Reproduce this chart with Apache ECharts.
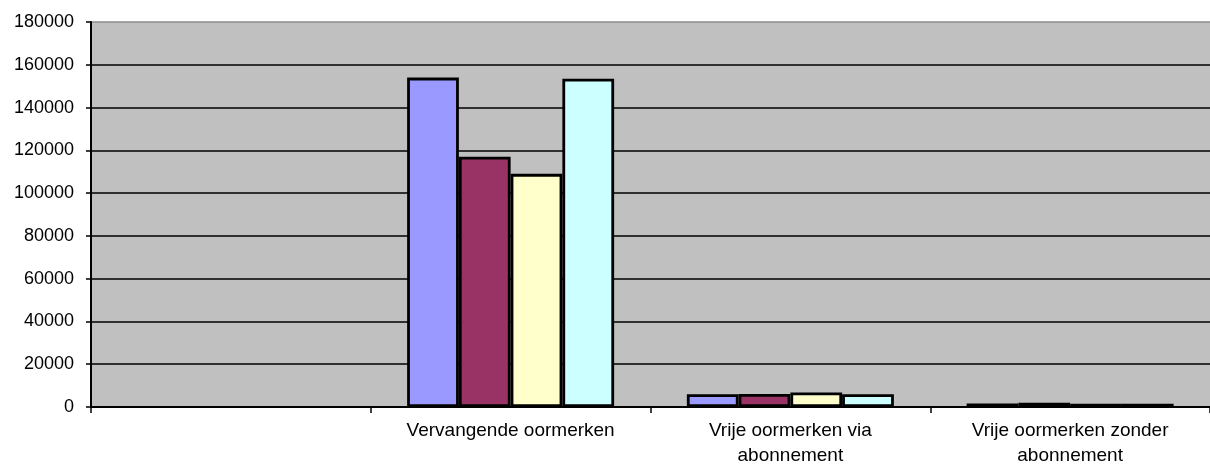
<!DOCTYPE html>
<html>
<head>
<meta charset="utf-8">
<script src="https://cdn.jsdelivr.net/npm/echarts@6/dist/echarts.min.js"></script>
<style>html,body{margin:0;padding:0;background:#fff;}#c{width:1210px;height:464px;}</style>
</head>
<body>
<div id="c"></div>
<script>
const categories = ['', 'Vervangende oormerken', 'Vrije oormerken via\nabonnement', 'Vrije oormerken zonder\nabonnement'];
const series1 = [null, 154000, 6000, 1600];
const series2 = [null, 117000, 6100, 2000];
const series3 = [null, 109000, 6800, 1500];
const series4 = [null, 153500, 6000, 1500];
const seriesColors = ['#9999FF', '#993366', '#FFFFCC', '#CCFFFF'];
const yMin = 0, yMax = 180000, yStep = 20000;

const chart = echarts.init(document.getElementById('c'));
const gridColors = [];
for (let v = yMin; v <= yMax; v += yStep) gridColors.push(v === yMax ? '#8c8c8c' : '#000000');
const mk = (data, i) => ({
  type: 'bar', data: data, barGap: '0%', barCategoryGap: '26%',
  itemStyle: { color: seriesColors[i], borderColor: '#000', borderWidth: 2.8 },
  animation: false
});
chart.setOption({
  animation: false,
  grid: { left: 91, right: 0, top: 22, bottom: 57, show: true, backgroundColor: '#c0c0c0', borderWidth: 0, containLabel: false, outerBoundsMode: 'none' },
  xAxis: {
    type: 'category', data: categories,
    axisLine: { lineStyle: { color: '#000', width: 2 } },
    axisTick: { show: true, length: 6, lineStyle: { color: '#000', width: 1.5 } },
    axisLabel: { color: '#000', fontFamily: 'Liberation Sans, Arial, sans-serif', fontSize: 19, lineHeight: 25, margin: 11, interval: 0 }
  },
  yAxis: {
    type: 'value', min: yMin, max: yMax, interval: yStep,
    axisLine: { show: true, lineStyle: { color: '#000', width: 2 } },
    axisTick: { show: true, length: 5, lineStyle: { color: '#000', width: 1.5 } },
    axisLabel: { color: '#000', fontFamily: 'Liberation Sans, Arial, sans-serif', fontSize: 18, margin: 17, formatter: v => String(v) },
    splitLine: { show: true, lineStyle: { color: gridColors, width: 1.5 } }
  },
  series: [mk(series1, 0), mk(series2, 1), mk(series3, 2), mk(series4, 3)]
});
</script>
</body>
</html>
